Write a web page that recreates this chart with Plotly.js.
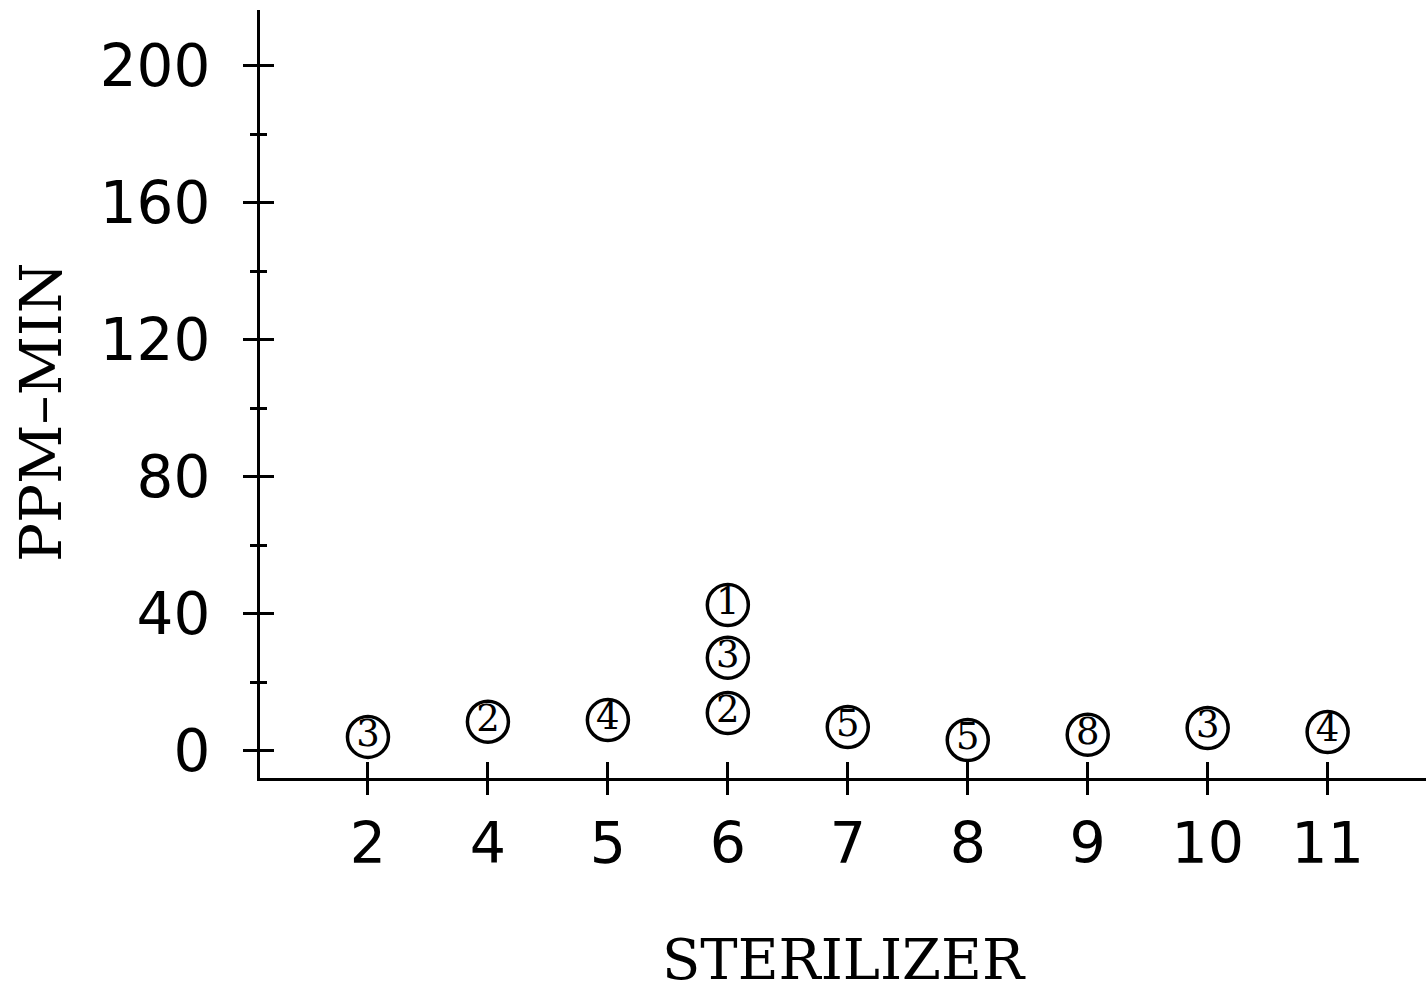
<!DOCTYPE html>
<html>
<head>
<meta charset="utf-8">
<script src="https://cdn.plot.ly/plotly-3.0.1.min.js"></script>
<style>html,body{margin:0;padding:0;background:#fff;}#chart{width:1426px;height:992px;}</style>
</head>
<body>
<div id="chart"></div>
<script>
const categories = ['2','4','5','6','7','8','9','10','11'];
const pointSterilizer = ['2','4','5','6','6','6','7','8','9','10','11'];
const pointValue = [4.1, 8.5, 9.0, 42.6, 27.2, 11.1, 7.0, 3.2, 4.7, 6.7, 5.5];
const pointCount = ['3','2','4','1','3','2','5','5','8','3','4'];
const yTickVals = [0, 40, 80, 120, 160, 200];
const xTitle = 'STERILIZER';
const yTitle = 'PPM–MIN';

const xr = [-0.9, 8.82];
const yr = [-7.9, 216.3];
const idx = categories.map((c, i) => i);

const pts = {
  type: 'scatter', mode: 'markers+text',
  x: pointSterilizer, y: pointValue, text: pointCount,
  textposition: 'middle center',
  textfont: {family: 'DejaVu Serif', size: 37, color: '#000'},
  marker: {symbol: 'circle-open', size: 41, color: '#000', line: {width: 3.5, color: '#000'}},
  cliponaxis: false, hoverinfo: 'skip', showlegend: false
};
const ghost = {
  type: 'scatter', mode: 'markers', x: idx, y: idx.map(() => 0),
  xaxis: 'x2', yaxis: 'y2', marker: {opacity: 0, size: 1}, hoverinfo: 'skip', showlegend: false
};

const layout = {
  width: 1426, height: 992,
  margin: {l: 260, r: 0, t: 10, b: 214},
  paper_bgcolor: '#fff', plot_bgcolor: 'rgba(0,0,0,0)',
  showlegend: false,
  xaxis: {
    type: 'category', categoryorder: 'array', categoryarray: categories,
    range: xr, showgrid: false, zeroline: false,
    showline: true, linecolor: '#000', linewidth: 3,
    ticks: 'outside', ticklen: 14, tickwidth: 3, tickcolor: '#000',
    ticklabelstandoff: 0,
    tickfont: {family: 'DejaVu Sans', size: 57, color: '#000'},
    title: {text: xTitle, font: {family: 'DejaVu Serif', size: 56, color: '#000'}, standoff: 84}
  },
  yaxis: {
    range: yr, tickmode: 'array', tickvals: yTickVals, showgrid: false, zeroline: false,
    showline: true, linecolor: '#000', linewidth: 3,
    ticks: 'outside', ticklen: 14, tickwidth: 3, tickcolor: '#000',
    ticklabelstandoff: 21,
    minor: {dtick: 20, tick0: 0, ticks: 'outside', ticklen: 7, tickwidth: 3, tickcolor: '#000', showgrid: false},
    tickfont: {family: 'DejaVu Sans', size: 58, color: '#000'}
  },
  xaxis2: {
    overlaying: 'x', anchor: 'y2', side: 'bottom', range: xr,
    tickmode: 'array', tickvals: idx, showticklabels: false,
    showgrid: false, zeroline: false, showline: false,
    ticks: 'inside', ticklen: 16, tickwidth: 3, tickcolor: '#000'
  },
  yaxis2: {
    overlaying: 'y', anchor: 'x2', side: 'left', range: yr,
    tickmode: 'array', tickvals: yTickVals, showticklabels: false,
    showgrid: false, zeroline: false, showline: false,
    ticks: 'inside', ticklen: 14, tickwidth: 3, tickcolor: '#000',
    minor: {dtick: 20, tick0: 0, ticks: 'inside', ticklen: 7, tickwidth: 3, tickcolor: '#000', showgrid: false}
  },
  annotations: [{
    text: yTitle, xref: 'paper', yref: 'paper',
    x: -219 / 1166, y: 366 / 768, xanchor: 'center', yanchor: 'middle',
    textangle: -90, showarrow: false,
    font: {family: 'DejaVu Serif', size: 58, color: '#000'}
  }]
};

Plotly.newPlot('chart', [pts, ghost], layout, {displayModeBar: false, staticPlot: true});
</script>
</body>
</html>
